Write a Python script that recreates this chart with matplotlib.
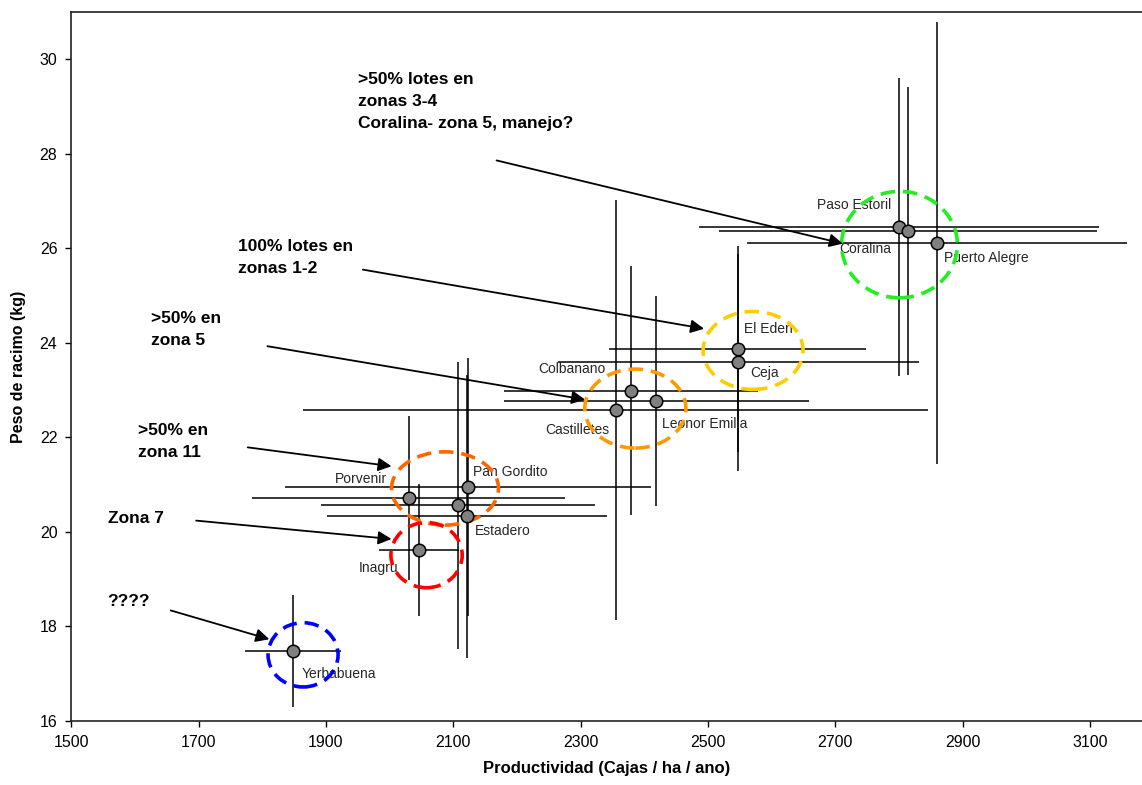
import matplotlib.pyplot as plt
from matplotlib.patches import Ellipse

plt.rcParams['font.family'] = ['Liberation Sans', 'DejaVu Sans']

# productividad (cajas/ha/ano) vs peso de racimo (kg), mean +- spread per finca
fincas = ['Yerbabuena', 'Inagru', 'Porvenir', '', 'Pan Gordito', 'Estadero',
          'Castilletes', 'Colbanano', 'Leonor Emilia', 'El Eden', 'Ceja',
          'Paso Estoril', 'Coralina', 'Puerto Alegre']
cajas = [1848, 2046, 2030, 2107, 2123, 2122,
         2355, 2379, 2419, 2547, 2548,
         2800, 2815, 2860]
cajas_err = [75, 63, 246, 215, 288, 220,
             491, 200, 240, 202, 284,
             314, 297, 298]
peso = [17.48, 19.62, 20.72, 20.56, 20.96, 20.33,
        22.58, 22.99, 22.77, 23.88, 23.59,
        26.45, 26.36, 26.11]
peso_err = [1.19, 1.40, 1.73, 3.04, 2.73, 3.00,
            4.44, 2.64, 2.22, 2.18, 2.30,
            3.16, 3.05, 4.68]

# label offsets in pixels (dx, dy)
label_off = {
    'Yerbabuena': (9, -23), 'Inagru': (-60, -18), 'Porvenir': (-74, 19),
    'Pan Gordito': (5, 15), 'Estadero': (8, -15), 'Castilletes': (-70, -20),
    'Colbanano': (-93, 22), 'Leonor Emilia': (6, -23), 'El Eden': (6, 20),
    'Ceja': (12, -11), 'Paso Estoril': (-82, 22), 'Coralina': (-69, -18),
    'Puerto Alegre': (7, -15),
}

# groups circled: (x, y, width, height, color)
grupos = [
    (2801, 26.08, 182, 2.25, '#22EE22'),
    (2571, 23.84, 157, 1.65, '#FFCC00'),
    (2386, 22.61, 159, 1.67, '#FF9900'),
    (2087, 20.92, 168, 1.55, '#FF6600'),
    (2058, 19.51, 112, 1.38, '#FF0000'),
    (1864, 17.40, 110, 1.36, '#0000FF'),
]

# comments: text, text position (left, top), arrow start, arrow end
notas = [
    ('>50% lotes en\nzonas 3-4\nCoralina- zona 5, manejo?', (1950, 29.73), (2168, 27.86), (2712, 26.10)),
    ('100% lotes en\nzonas 1-2', (1762, 26.19), (1958, 25.55), (2494, 24.30)),
    ('>50% en\nzona 5', (1625, 24.67), (1808, 23.93), (2307, 22.80)),
    ('>50% en\nzona 11', (1604, 22.30), (1777, 21.79), (2003, 21.39)),
    ('Zona 7', (1558, 20.45), (1696, 20.24), (2003, 19.85)),
    ('????', (1557, 18.69), (1656, 18.34), (1811, 17.73)),
]

fig = plt.figure(figsize=(11.42, 7.85), dpi=100)
ax = fig.add_axes([0.0625, 0.0815, 0.9375, 0.9032])

ax.errorbar(cajas, peso, xerr=cajas_err, yerr=peso_err, fmt='none',
            ecolor='black', elinewidth=1.1, capsize=0, zorder=2)
ax.plot(cajas, peso, 'o', ms=9, mfc='#808080', mec='black', mew=1.1,
        zorder=5, ls='none')

for name, x, y in zip(fincas, cajas, peso):
    if not name:
        continue
    dx, dy = label_off[name]
    ax.annotate(name, (x, y), xytext=(dx, dy), textcoords='offset pixels',
                ha='left', va='center', fontsize=10, color='#262626', zorder=3)

for x, y, w, h, c in grupos:
    ax.add_patch(Ellipse((x, y), w, h, fill=False, edgecolor=c, lw=2.6,
                         linestyle=(0, (4, 2.2)), zorder=4))

for txt, pos, a0, a1 in notas:
    ax.text(pos[0], pos[1], txt, ha='left', va='top', fontsize=12.5,
            fontweight='bold', linespacing=1.58, zorder=6)
    ax.annotate('', xy=a1, xytext=a0,
                arrowprops=dict(arrowstyle='-|>', color='black', lw=1.3,
                                mutation_scale=20, shrinkA=0, shrinkB=0),
                zorder=6)

ax.set_xlim(1500, 3182)
ax.set_ylim(16, 31)
ax.set_xticks(range(1500, 3101, 200))
ax.set_yticks(range(16, 31, 2))
ax.tick_params(direction='out', length=4, width=1, labelsize=11.5, pad=6)
for s in ['left', 'bottom', 'top']:
    ax.spines[s].set_linewidth(1.2)
    ax.spines[s].set_color('#222222')
ax.spines['right'].set_visible(False)

ax.set_xlabel('Productividad (Cajas / ha / ano)', fontsize=12, fontweight='bold', labelpad=8)
ax.set_ylabel('Peso de racimo (kg)', fontsize=11.5, fontweight='bold', labelpad=10)

fig.savefig('out.png', dpi=100)
